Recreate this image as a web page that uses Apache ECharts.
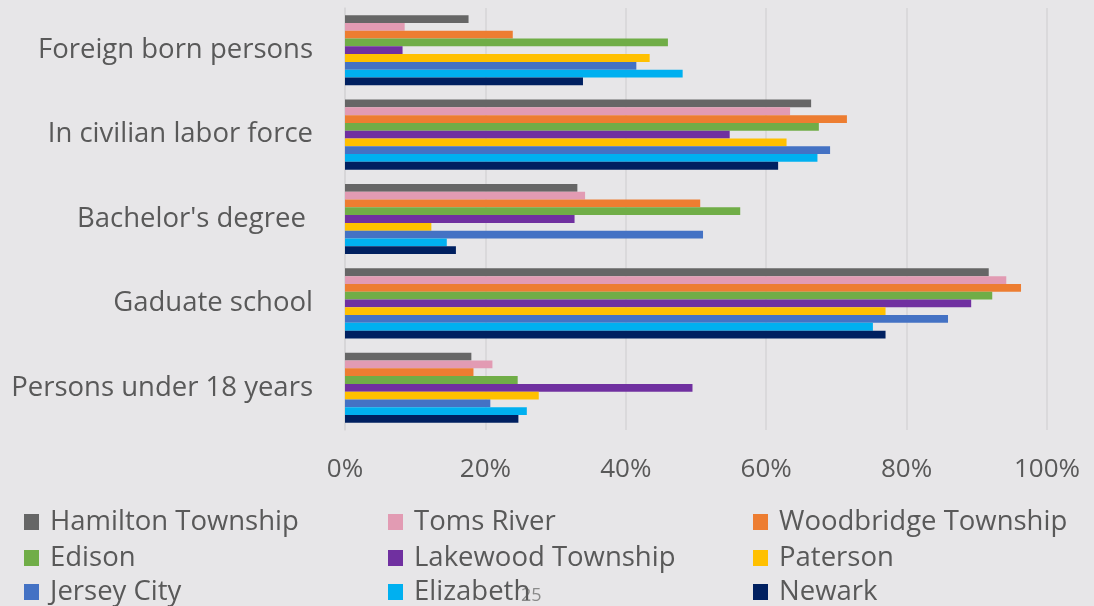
<!DOCTYPE html>
<html>
<head>
<meta charset="utf-8">
<script src="https://cdn.jsdelivr.net/npm/echarts@6/dist/echarts.min.js"></script>
<style>
html,body{margin:0;padding:0;background:#e7e6e8;}
#c{width:1094px;height:606px;}
</style>
</head>
<body>
<div id="c"></div>
<script>
const categories = ["Foreign born persons", "In civilian labor force", "Bachelor's degree ", "Gaduate school", "Persons under 18 years"];
const seriesNames = ["Hamilton Township", "Toms River", "Woodbridge Township", "Edison", "Lakewood Township", "Paterson", "Jersey City", "Elizabeth", "Newark"];
const hamilton   = [17.6, 66.4, 33.1, 91.7, 18.0];
const tomsRiver  = [8.5, 63.4, 34.2, 94.2, 21.0];
const woodbridge = [23.9, 71.5, 50.6, 96.3, 18.3];
const edison     = [46.0, 67.5, 56.3, 92.2, 24.6];
const lakewood   = [8.2, 54.8, 32.7, 89.2, 49.5];
const paterson   = [43.4, 62.9, 12.3, 77.0, 27.6];
const jerseyCity = [41.5, 69.1, 51.0, 85.9, 20.7];
const elizabeth  = [48.1, 67.3, 14.5, 75.2, 25.9];
const newark     = [33.9, 61.7, 15.8, 77.0, 24.7];
const xTicks = [0, 20, 40, 60, 80, 100];

const values = [hamilton, tomsRiver, woodbridge, edison, lakewood, paterson, jerseyCity, elizabeth, newark];
const colors = ["#666666", "#E29BB3", "#ED7D31", "#70AD47", "#7030A0", "#FFC000", "#4472C4", "#00B0F0", "#002060"];

const FONT = "Open Sans";
const TXT = "#595959";

const legendCols = [24, 388, 753];
const legendRows = [508, 544, 578];
const legends = seriesNames.map((n, i) => ({
  data: [n],
  left: legendCols[i % 3],
  top: legendRows[Math.floor(i / 3)],
  padding: 0,
  icon: 'rect',
  itemWidth: 15,
  itemHeight: 16,
  selectedMode: false,
  textStyle: { fontFamily: FONT, fontSize: 27.5, color: TXT, padding: [0, 0, 0, 6] }
}));

const chart = echarts.init(document.getElementById('c'));
chart.setOption({
  backgroundColor: '#e7e6e8',
  animation: false,
  color: colors,
  grid: { left: 345, right: 47, top: 8, bottom: 176 },
  legend: legends,
  xAxis: {
    type: 'value', min: xTicks[0], max: xTicks[xTicks.length - 1], interval: 20,
    axisLine: { show: false }, axisTick: { show: false },
    splitLine: { lineStyle: { color: '#d6d5d7', width: 1.5 } },
    axisLabel: { formatter: '{value}%', fontFamily: FONT, fontSize: 26, color: TXT, margin: 27 }
  },
  yAxis: {
    type: 'category', data: categories, inverse: true,
    axisLine: { show: true, lineStyle: { color: '#d6d5d7', width: 1.5 } },
    axisTick: { show: false },
    axisLabel: { fontFamily: FONT, fontSize: 27.5, color: TXT, margin: 32 }
  },
  graphic: [{
    type: 'text', left: 521, top: 587,
    style: { text: '25', fontFamily: FONT, fontSize: 18, fill: '#8a8a8a' }
  }],
  series: seriesNames.map((n, i) => ({
    name: n, type: 'bar', data: values[i],
    barGap: '0%', barCategoryGap: '17%'
  }))
});
</script>
</body>
</html>
